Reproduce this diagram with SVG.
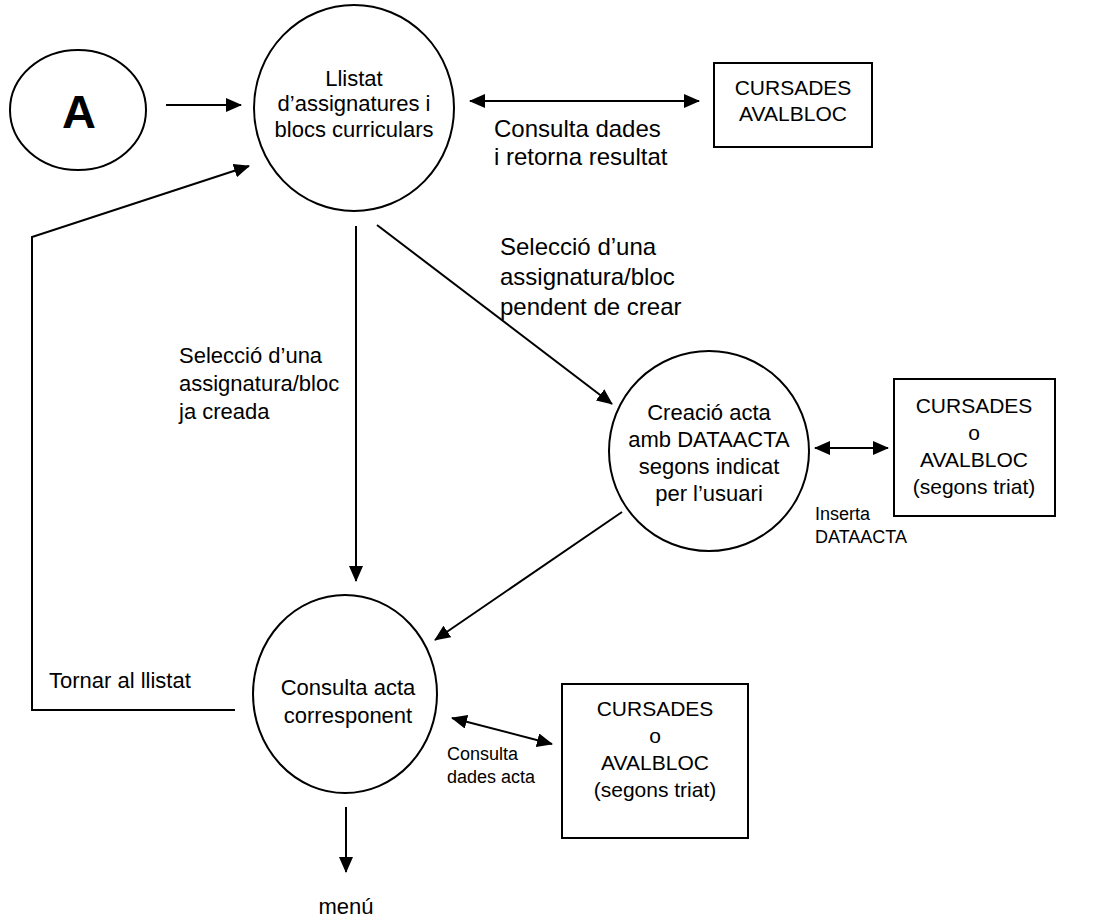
<svg xmlns="http://www.w3.org/2000/svg" width="1104" height="918" viewBox="0 0 1104 918">
<style>
.shape{fill:#fff;stroke:#000;stroke-width:2}
.t{font-family:"Liberation Sans",Arial,sans-serif;fill:#000;font-size:22px}
.c{text-anchor:middle}
.s{font-size:18px}
.b{font-size:21px}
.l{font-size:24px}
.edge{fill:none;stroke:#000;stroke-width:2}
.arr{marker-end:url(#ah)}
.dbl{marker-end:url(#ah);marker-start:url(#ah)}
</style>
<defs>
<marker id="ah" markerUnits="userSpaceOnUse" markerWidth="16" markerHeight="14" refX="15" refY="7" orient="auto-start-reverse">
<path d="M0,0 L16,7 L0,14 z" fill="#000"/>
</marker>
</defs>
<rect width="1104" height="918" fill="#fff"/>
<g id="nodeA">
<ellipse class="shape" cx="78" cy="110" rx="68" ry="60"/>
<text class="t c" x="79" y="128" style="font-size:47px;font-weight:bold">A</text>
</g>
<g id="llistat">
<ellipse class="shape" cx="354" cy="108" rx="100" ry="103"/>
<text class="t c" x="354" y="86">Llistat</text>
<text class="t c" x="354" y="111">d’assignatures i</text>
<text class="t c" x="354" y="137">blocs curriculars</text>
</g>
<g id="box1">
<rect class="shape" x="714" y="63" width="158" height="84"/>
<text class="t c b" x="793" y="95">CURSADES</text>
<text class="t c b" x="793" y="121">AVALBLOC</text>
</g>
<g id="creacio">
<ellipse class="shape" cx="709" cy="451" rx="100" ry="100"/>
<text class="t c" x="709" y="420">Creació acta</text>
<text class="t c" x="709" y="447">amb DATAACTA</text>
<text class="t c" x="709" y="474">segons indicat</text>
<text class="t c" x="709" y="501">per l’usuari</text>
</g>
<g id="box2">
<rect class="shape" x="894" y="379" width="161" height="137"/>
<text class="t c b" x="974" y="413">CURSADES</text>
<text class="t c b" x="974" y="440">o</text>
<text class="t c b" x="974" y="467">AVALBLOC</text>
<text class="t c b" x="974" y="494">(segons triat)</text>
</g>
<g id="consulta">
<ellipse class="shape" cx="345" cy="694" rx="92" ry="99"/>
<text class="t c" x="348" y="695">Consulta acta</text>
<text class="t c" x="348" y="723">corresponent</text>
</g>
<g id="box3">
<rect class="shape" x="562" y="684" width="186" height="154"/>
<text class="t c b" x="655" y="716">CURSADES</text>
<text class="t c b" x="655" y="743">o</text>
<text class="t c b" x="655" y="770">AVALBLOC</text>
<text class="t c b" x="655" y="797">(segons triat)</text>
</g>
<g id="connectors">
<line class="edge arr" x1="166" y1="105" x2="241" y2="105"/>
<line class="edge dbl" x1="470" y1="101" x2="699" y2="101"/>
<polyline class="edge arr" points="235,710 32,710 32,237 249,166"/>
<line class="edge arr" x1="356" y1="226" x2="356" y2="581"/>
<line class="edge arr" x1="377" y1="225" x2="612" y2="404"/>
<line class="edge dbl" x1="815" y1="448" x2="888" y2="448"/>
<line class="edge arr" x1="622" y1="512" x2="435" y2="640"/>
<line class="edge dbl" x1="452" y1="718" x2="552" y2="744"/>
<line class="edge arr" x1="346" y1="807" x2="346" y2="872"/>
</g>
<g id="labels">
<text class="t l" x="494" y="137">Consulta dades</text>
<text class="t l" x="494" y="165">i retorna resultat</text>
<text class="t l" x="500" y="255">Selecció d’una</text>
<text class="t l" x="500" y="285">assignatura/bloc</text>
<text class="t l" x="500" y="315">pendent de crear</text>
<text class="t" x="179" y="363">Selecció d’una</text>
<text class="t" x="179" y="391">assignatura/bloc</text>
<text class="t" x="179" y="419">ja creada</text>
<text class="t s" x="815" y="520">Inserta</text>
<text class="t s" x="815" y="543">DATAACTA</text>
<text class="t s" x="447" y="760">Consulta</text>
<text class="t s" x="447" y="783">dades acta</text>
<text class="t" x="49" y="688">Tornar al llistat</text>
<text class="t c" x="346" y="914">menú</text>
</g>
</svg>
